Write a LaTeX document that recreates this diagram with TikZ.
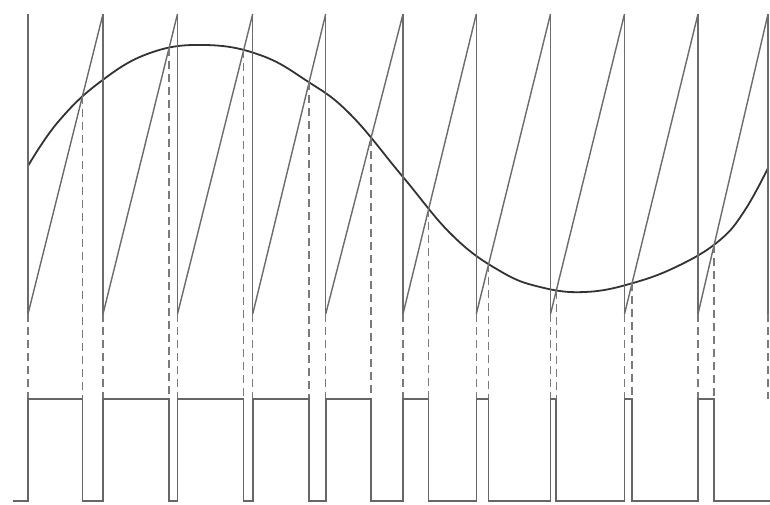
\documentclass[tikz,border=0pt]{standalone}
\usetikzlibrary{intersections}
\begin{document}
\begin{tikzpicture}[x=1pt,y=-1pt,
  sinecurve/.style={draw=black!80,line width=1.8pt,line join=round},
  sawline/.style={draw=black!58,line width=1.4pt},
  dashline/.style={draw=black!52,line width=1.4pt,dash pattern=on 8pt off 5pt},
  sqwave/.style={draw=black!60,line width=1.6pt}]
\useasboundingbox (0,0) rectangle (770,505);
\fill[white] (0,0) rectangle (770,505);
\coordinate (hi) at (0,399);
\coordinate (lo) at (0,501);
% sine
\draw[sinecurve,name path=sine] plot[smooth,tension=0.7] coordinates {
 (28,166) (58,122) (100,82) (150,53) (205,45) (260,55) (307,81) (350,114)
 (403,177) (453,236) (500,271) (540,287) (585,292) (633,283) (680,265)
 (720,240) (745,210) (768,168)};
% vertical drops of the sawtooth and their dashed continuations
\foreach \x [count=\k from 0] in {28,103,177.5,252.7,325.7,403,476.3,550.5,624.5,698,768}{
  \coordinate (vt\k) at (\x,14);
  \coordinate (vb\k) at (\x,314);
  \draw[sawline] (vt\k) -- (vb\k);
  \draw[dashline] (vb\k) -- (vb\k |- hi);
}
% ramps, intersections with the sine, dashed projections
\foreach \a/\b [count=\k from 0] in {0/1,1/2,2/3,3/4,4/5,5/6,6/7,7/8,8/9,9/10}{
  \draw[sawline,name path=r\k] (vb\a) -- (vt\b);
  \path[name intersections={of=sine and r\k, by={i\k}}];
  \draw[dashline] (i\k) -- (i\k |- hi);
}
% PWM output
\coordinate (sqstart) at (13,501);
\coordinate (sqend) at (770,501);
\draw[sqwave] (sqstart)
  \foreach \k in {0,...,9}{ -- (vb\k |- lo) -- (vb\k |- hi) -- (i\k |- hi) -- (i\k |- lo) }
  -- (sqend);
\end{tikzpicture}
\end{document}
